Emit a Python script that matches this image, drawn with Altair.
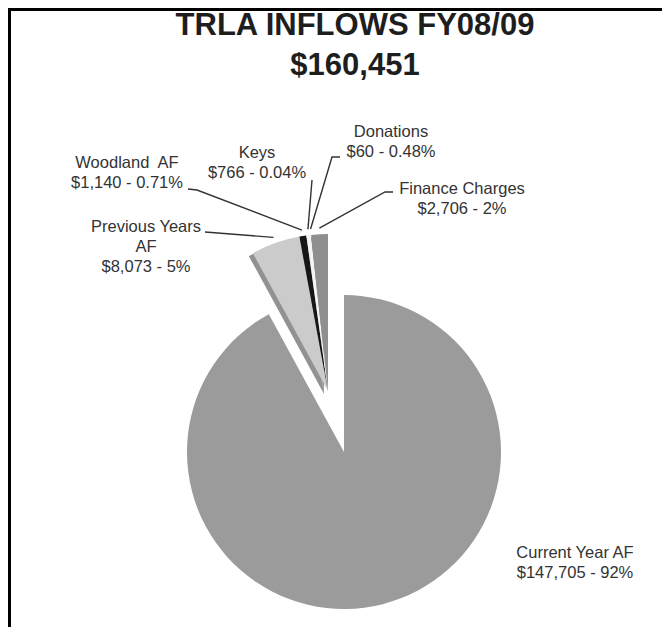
import math
import altair as alt
import pandas as pd

# ---------------- data ----------------
names = ["Current Year AF", "Previous Years AF", "Woodland  AF", "Keys", "Donations", "Finance Charges"]
name_lines = [["Current Year AF"], ["Previous Years", "AF"], ["Woodland\u00a0 AF"], ["Keys"], ["Donations"], ["Finance Charges"]]
amounts = [147705, 8073, 1140, 766, 60, 2706]
amount_labels = ["$147,705", "$8,073", "$1,140", "$766", "$60", "$2,706"]
pct_labels = ["92%", "5%", "0.71%", "0.04%", "0.48%", "2%"]
title_lines = ["TRLA INFLOWS FY08/09", "$160,451"]

# ---------------- style / layout (page pixels) ----------------
colors = ["#9b9b9b", "#cbcbcb", "#161616", "#f4f4f4", "#5a5a5a", "#8f8f8f"]
OFF = 8
W, H = 654, 619
BIG_C = (344, 452)
SMALL_C = (328, 391)
R = 157
LEAD_R = 163
FONT = "Liberation Sans"
label_pos = [(575, 553), (146, 227), (127, 163), (257, 153), (391, 132), (462, 189)]
line_gap = 20
elbows = [None, [(205, 232)], [(188, 189), (197, 190)], [(312, 180)],
          [(340, 157), (332, 157)], [(393, 192), (385, 192)]]
title_x = 355
title_y = [26, 66]

total = sum(amounts)
df = pd.DataFrame({"idx": list(range(len(names))), "name": names, "amount": amounts})

base = alt.Chart(df).transform_window(
    end="sum(amount)", sort=[alt.SortField("idx")]
).transform_calculate(start="datum.end - datum.amount")

theta = alt.Theta("start:Q", scale=alt.Scale(domain=[0, total]), stack=False)
theta2 = alt.Theta2("end:Q")
color = alt.Color("name:N", scale=alt.Scale(domain=names, range=colors), legend=None)

big = base.transform_filter("datum.idx == 0").mark_arc(radius=R).encode(
    theta=theta, theta2=theta2, color=color,
    x=alt.value(BIG_C[0] - OFF), y=alt.value(BIG_C[1] - OFF))

shadow = base.transform_filter("datum.idx > 0").mark_arc(
    radius=R, color="#4a4a4a", opacity=0.6).encode(
    theta=theta, theta2=theta2,
    x=alt.value(SMALL_C[0] - OFF - 4), y=alt.value(SMALL_C[1] - OFF + 3))

small = base.transform_filter("datum.idx > 0").mark_arc(radius=R).encode(
    theta=theta, theta2=theta2, color=color,
    x=alt.value(SMALL_C[0] - OFF), y=alt.value(SMALL_C[1] - OFF))

# leader lines: elbow points -> slice outer edge at its mid angle
rows = []
cum = 0
for i, a in enumerate(amounts):
    mid = (cum + a / 2) / total * 2 * math.pi
    cum += a
    if elbows[i] is None:
        continue
    pts = list(elbows[i])
    pts.append((SMALL_C[0] + LEAD_R * math.sin(mid), SMALL_C[1] - LEAD_R * math.cos(mid)))
    for k, (px, py) in enumerate(pts):
        rows.append({"id": i, "o": k, "x": px - OFF, "y": py - OFF})
lead_df = pd.DataFrame(rows)
leaders = alt.Chart(lead_df).mark_line(color="#333333", strokeWidth=1.4).encode(
    x=alt.X("x:Q", scale=None, axis=None),
    y=alt.Y("y:Q", scale=None, axis=None),
    detail="id:N", order="o:Q")

# slice labels
lab_rows = []
for i in range(len(names)):
    lines = name_lines[i] + [f"{amount_labels[i]} - {pct_labels[i]}"]
    cx, cy = label_pos[i]
    for k, t in enumerate(lines):
        lab_rows.append({"x": cx - OFF, "y": cy + k * line_gap - OFF, "t": t})
labels = alt.Chart(pd.DataFrame(lab_rows)).mark_text(
    font=FONT, fontSize=16.5, color="#333333", align="center", baseline="middle").encode(
    x=alt.X("x:Q", scale=None, axis=None),
    y=alt.Y("y:Q", scale=None, axis=None),
    text="t:N")

title_df = pd.DataFrame({"x": [title_x - OFF] * 2, "y": [v - OFF for v in title_y], "t": title_lines})
title = alt.Chart(title_df).mark_text(
    font=FONT, fontSize=31, fontWeight="bold", color="#1e1e1e", align="center", baseline="middle").encode(
    x=alt.X("x:Q", scale=None, axis=None),
    y=alt.Y("y:Q", scale=None, axis=None),
    text="t:N")

one = pd.DataFrame({"a": [0]})
frame_top = alt.Chart(one).mark_rule(color="black", strokeWidth=3).encode(
    x=alt.value(0), x2=alt.value(W), y=alt.value(1.5))
frame_left = alt.Chart(one).mark_rule(color="black", strokeWidth=3).encode(
    x=alt.value(1.5), y=alt.value(0), y2=alt.value(H))

chart = alt.layer(big, shadow, small, leaders, labels, title, frame_top, frame_left).properties(
    width=W, height=H, padding=0,
    autosize=alt.AutoSizeParams(type="none"),
    background="white",
).configure_view(strokeWidth=0)

chart.save("out.html", embed_options={"renderer": "svg", "actions": False})
